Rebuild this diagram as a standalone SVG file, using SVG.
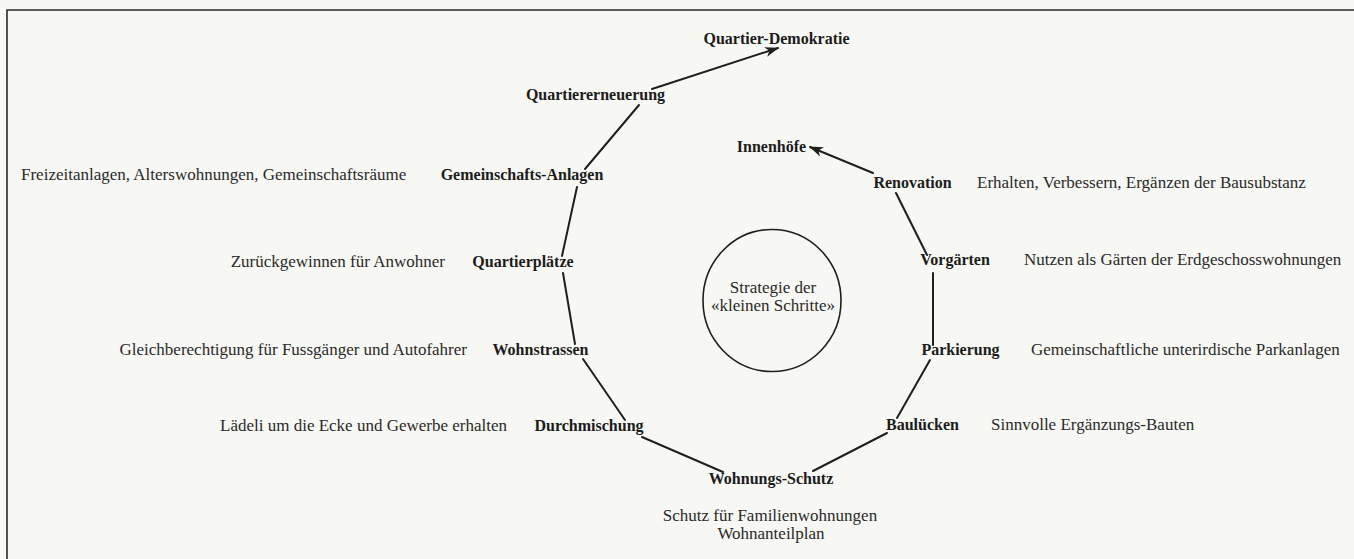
<svg xmlns="http://www.w3.org/2000/svg" width="1354" height="559" viewBox="0 0 1354 559">
<defs>
<style>
.bg{fill:#f7f7f3}
.frame{fill:none;stroke:#2a2a2a;stroke-width:1.6}
.lbl{font-family:"Liberation Serif","Times New Roman",serif;font-size:16px;font-weight:bold;fill:#1c1c1c;text-anchor:middle}
.desc{font-family:"Liberation Serif","Times New Roman",serif;font-size:17px;fill:#2a2a2a}
.mid{text-anchor:middle}
.end{text-anchor:end}
.con{fill:none;stroke:#1f1f1f;stroke-width:2;stroke-linecap:round}
.ring{fill:none;stroke:#1f1f1f;stroke-width:1.6}
</style>
<marker id="arr" markerUnits="userSpaceOnUse" markerWidth="16" markerHeight="12" refX="13" refY="5" orient="auto">
<path d="M0,0 L14,5 L0,10 L4,5 Z" fill="#1f1f1f"/>
</marker>
</defs>
<rect class="bg" x="0" y="0" width="1354" height="559"/>
<path class="frame" d="M7,559 L7,10 L1354,10"/>

<g id="connectors">
<line class="con" x1="652" y1="89" x2="778" y2="48" marker-end="url(#arr)"/>
<line class="con" x1="585" y1="169" x2="639" y2="105"/>
<line class="con" x1="562" y1="256" x2="577" y2="187"/>
<line class="con" x1="575" y1="344" x2="563" y2="273"/>
<line class="con" x1="625" y1="420" x2="583" y2="359"/>
<line class="con" x1="723" y1="472" x2="642" y2="437"/>
<line class="con" x1="887" y1="433" x2="813" y2="471"/>
<line class="con" x1="930" y1="360" x2="897" y2="418"/>
<line class="con" x1="933" y1="273" x2="933" y2="345"/>
<line class="con" x1="896" y1="193" x2="927" y2="255"/>
<line class="con" x1="873" y1="173" x2="810" y2="147" marker-end="url(#arr)"/>
</g>

<g id="strategie">
<ellipse class="ring" cx="772" cy="300.5" rx="69" ry="71"/>
<text class="desc mid" x="773" y="293">Strategie der</text>
<text class="desc mid" x="773" y="311">«kleinen Schritte»</text>
</g>

<g id="quartier-demokratie"><text class="lbl" x="776.5" y="44">Quartier-Demokratie</text></g>
<g id="quartiererneuerung"><text class="lbl" x="595.5" y="100">Quartiererneuerung</text></g>
<g id="gemeinschafts-anlagen">
<text class="lbl" x="522" y="180">Gemeinschafts-Anlagen</text>
<text class="desc" x="21" y="180">Freizeitanlagen, Alterswohnungen, Gemeinschaftsräume</text>
</g>
<g id="quartierplaetze">
<text class="lbl" x="523" y="267">Quartierplätze</text>
<text class="desc end" x="445" y="267">Zurückgewinnen für Anwohner</text>
</g>
<g id="wohnstrassen">
<text class="lbl" x="540.5" y="355">Wohnstrassen</text>
<text class="desc end" x="467" y="355">Gleichberechtigung für Fussgänger und Autofahrer</text>
</g>
<g id="durchmischung">
<text class="lbl" x="589" y="431">Durchmischung</text>
<text class="desc end" x="507" y="431">Lädeli um die Ecke und Gewerbe erhalten</text>
</g>
<g id="wohnungs-schutz">
<text class="lbl" x="771" y="484">Wohnungs-Schutz</text>
<text class="desc mid" x="770" y="521">Schutz für Familienwohnungen</text>
<text class="desc mid" x="771" y="539">Wohnanteilplan</text>
</g>
<g id="bauluecken">
<text class="lbl" x="922.5" y="430">Baulücken</text>
<text class="desc" x="991" y="430">Sinnvolle Ergänzungs-Bauten</text>
</g>
<g id="parkierung">
<text class="lbl" x="960.5" y="355">Parkierung</text>
<text class="desc" x="1031" y="355">Gemeinschaftliche unterirdische Parkanlagen</text>
</g>
<g id="vorgaerten">
<text class="lbl" x="955" y="265">Vorgärten</text>
<text class="desc" x="1024" y="265">Nutzen als Gärten der Erdgeschosswohnungen</text>
</g>
<g id="renovation">
<text class="lbl" x="912.5" y="188">Renovation</text>
<text class="desc" x="977" y="188">Erhalten, Verbessern, Ergänzen der Bausubstanz</text>
</g>
<g id="innenhoefe"><text class="lbl" x="771.5" y="152">Innenhöfe</text></g>
</svg>
